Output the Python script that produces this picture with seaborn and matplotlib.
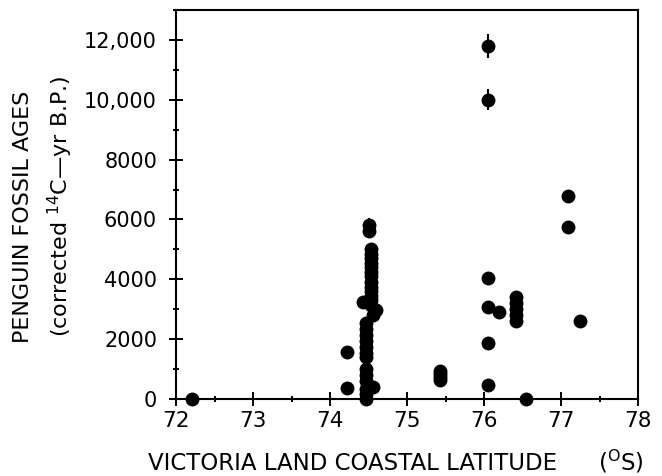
import numpy as np
import pandas as pd
import matplotlib
matplotlib.use("Agg")
import matplotlib.pyplot as plt
import seaborn as sns
from matplotlib.ticker import FixedLocator, FixedFormatter, MultipleLocator

# ---- data ----
latitude = [72.2,
            74.22, 74.22,
            74.5,
            74.53, 74.53, 74.53, 74.53, 74.53, 74.53, 74.53, 74.53, 74.53, 74.53, 74.53, 74.53, 74.53,
            74.43, 74.6, 74.55,
            74.47, 74.47, 74.47, 74.47, 74.47, 74.47, 74.47, 74.47, 74.47, 74.47, 74.47, 74.47, 74.47,
            74.55,
            75.42, 75.42, 75.42, 75.42,
            76.05, 76.05, 76.05, 76.05,
            76.19,
            76.42, 76.42, 76.42, 76.42, 76.42,
            76.55,
            77.09, 77.09,
            77.25]
age = [0,
       1580, 380,
       5600,
       5000, 4850, 4700, 4550, 4400, 4250, 4100, 3900, 3750, 3600, 3450, 3300, 3150,
       3250, 2980, 2800,
       2550, 2350, 2150, 1950, 1750, 1550, 1400, 1000, 800, 600, 350, 150, 0,
       400,
       950, 850, 750, 650,
       4040, 3090, 1860, 470,
       2920,
       3400, 3200, 3000, 2800, 2600,
       0,
       6770, 5760,
       2610]

err_latitude = [76.05, 76.05, 74.5]
err_age = [11800, 10000, 5800]
err_size = [400, 350, 250]

x_ticks = [72, 73, 74, 75, 76, 77, 78]
y_ticks = [0, 2000, 4000, 6000, 8000, 10000, 12000]
y_tick_labels = ["0", "2000", "4000", "6000", "8000", "10,000", "12,000"]

# ---- figure ----
sns.set_theme(style="white")
plt.rcParams['font.family'] = ['DejaVu Sans']
plt.rcParams['text.color'] = 'black'
plt.rcParams['xtick.color'] = 'black'
plt.rcParams['ytick.color'] = 'black'
plt.rcParams['mathtext.default'] = 'regular'

fig = plt.figure(figsize=(6.62, 4.76), dpi=100)
ax = fig.add_axes([0.2666, 0.1618, 0.6971, 0.8172])

df = pd.DataFrame({"lat": latitude, "age": age})
sns.scatterplot(data=df, x="lat", y="age", ax=ax, color="black", s=100,
                linewidth=0, clip_on=False, legend=False, zorder=3)
ax.errorbar(err_latitude, err_age, yerr=err_size, fmt='o', color='black',
            ms=10, mew=0, capsize=4, elinewidth=1.5, capthick=1.5,
            clip_on=False, zorder=3)

ax.set_xlim(72, 78)
ax.set_ylim(0, 13000)
ax.xaxis.set_major_locator(FixedLocator(x_ticks))
ax.xaxis.set_minor_locator(MultipleLocator(0.5))
ax.yaxis.set_major_locator(FixedLocator(y_ticks))
ax.yaxis.set_major_formatter(FixedFormatter(y_tick_labels))
ax.yaxis.set_minor_locator(MultipleLocator(1000))

for sp in ax.spines.values():
    sp.set_color('black')
    sp.set_linewidth(1.5)

ax.tick_params(which='both', direction='inout', bottom=True, left=True,
               top=False, right=False, width=1.4, colors='black')
ax.tick_params(which='major', length=10)
ax.tick_params(which='minor', length=5)
ax.tick_params(axis='x', which='major', labelsize=15.5, pad=4)
ax.tick_params(axis='y', which='major', labelsize=15, pad=9)

ax.set_xlabel("")
ax.set_ylabel("")

fig.text(0.533, 0.027, "VICTORIA LAND COASTAL LATITUDE", ha='center', va='center', fontsize=16.5)
fig.text(0.938, 0.030, r"($^{O}$S)", ha='center', va='center', fontsize=16.5)
fig.text(0.0347, 0.544, "PENGUIN FOSSIL AGES", rotation=90, ha='center', va='center', fontsize=16)
fig.text(0.0906, 0.567, r"(corrected $^{14}$C—yr B.P.)", rotation=90, ha='center', va='center', fontsize=16)

fig.savefig("out.png", dpi=100)
